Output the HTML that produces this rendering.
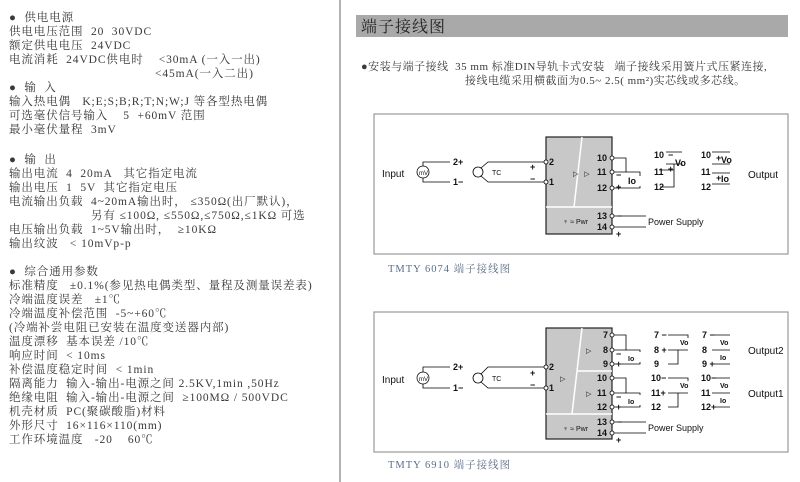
<!DOCTYPE html>
<html><head><meta charset="utf-8"><style>
html,body{margin:0;padding:0;background:#fff;width:800px;height:482px;overflow:hidden}
svg{display:block}
text{white-space:pre}
.l{font-family:"Liberation Serif","Noto Serif CJK SC","Noto Sans CJK SC",serif;font-size:11.5px;fill:#3a3a3a;letter-spacing:0.9px}
.d{font-family:"Liberation Sans",sans-serif;font-size:9px;fill:#111;font-weight:bold}
.n{font-family:"Liberation Sans",sans-serif;font-size:9px;fill:#111}
.c{font-family:"Liberation Serif","Noto Serif CJK SC",serif;font-size:10.5px;fill:#5a6e8a;letter-spacing:1px}
</style></head><body>
<svg width="800" height="482" viewBox="0 0 800 482" xmlns="http://www.w3.org/2000/svg" xml:space="preserve">
<line x1="340" y1="0" x2="340" y2="482" stroke="#999" stroke-width="1.5"/>
<g class="l">
<text x="9" y="21">●  供电电源</text>
<text x="9" y="35">供电电压范围  20  30VDC</text>
<text x="9" y="49">额定供电电压  24VDC</text>
<text x="9" y="63">电流消耗  24VDC供电时    &lt;30mA (一入一出)</text>
<text x="155" y="77">&lt;45mA(一入二出)</text>
<text x="9" y="91">●  输  入</text>
<text x="9" y="105">输入热电偶   K;E;S;B;R;T;N;W;J 等各型热电偶</text>
<text x="9" y="119">可选毫伏信号输入    5  +60mV 范围</text>
<text x="9" y="133">最小毫伏量程  3mV</text>
<text x="9" y="163">●  输  出</text>
<text x="9" y="177">输出电流  4  20mA   其它指定电流</text>
<text x="9" y="191">输出电压  1  5V  其它指定电压</text>
<text x="9" y="205">电流输出负载  4~20mA输出时， ≤350Ω(出厂默认)，</text>
<text x="91" y="219">另有 ≤100Ω, ≤550Ω,≤750Ω,≤1KΩ 可选</text>
<text x="9" y="233">电压输出负载  1~5V输出时，  ≥10KΩ</text>
<text x="9" y="247">输出纹波   &lt; 10mVp-p</text>
<text x="9" y="275">●  综合通用参数</text>
<text x="9" y="289">标准精度   ±0.1%(参见热电偶类型、量程及测量误差表)</text>
<text x="9" y="303">冷端温度误差   ±1℃</text>
<text x="9" y="317">冷端温度补偿范围  -5~+60℃</text>
<text x="9" y="331">(冷端补尝电阻已安装在温度变送器内部)</text>
<text x="9" y="345">温度漂移  基本误差 /10℃</text>
<text x="9" y="359">响应时间  &lt; 10ms</text>
<text x="9" y="373">补偿温度稳定时间  &lt; 1min</text>
<text x="9" y="387">隔离能力  输入-输出-电源之间 2.5KV,1min ,50Hz</text>
<text x="9" y="401">绝缘电阻  输入-输出-电源之间  ≥100MΩ / 500VDC</text>
<text x="9" y="415">机壳材质  PC(聚碳酸脂)材料</text>
<text x="9" y="429">外形尺寸  16×116×110(mm)</text>
<text x="9" y="443">工作环境温度   -20    60℃</text>
</g>
<rect x="356" y="15" width="432" height="22" fill="#a9a9a9"/>
<text x="361" y="32" style="font-family:'Noto Serif CJK SC',serif;font-size:16px;fill:#222;letter-spacing:1px">端子接线图</text>
<text class="l" x="361" y="70" style="font-size:11px;letter-spacing:0.5px">●安装与端子接线  35 mm 标准DIN导轨卡式安装   端子接线采用簧片式压紧连接,</text>
<text class="l" x="465" y="84" style="font-size:11px;letter-spacing:0.5px">接线电缆采用横截面为0.5~ 2.5( mm²)实芯线或多芯线。</text>

<!-- Diagram 1 -->
<g stroke="#000" fill="none" stroke-width="0.8">
<rect x="374" y="114" width="414" height="140" stroke="#999" stroke-width="1.2"/>
<rect x="546" y="137" width="66" height="97" fill="#c8c8c8" stroke="#222" stroke-width="1.2"/>
<line x1="582" y1="137" x2="574" y2="207" stroke="#fff" stroke-width="1.5"/>
<line x1="546" y1="207" x2="612" y2="207" stroke="#fff" stroke-width="1.5"/>
<circle cx="423" cy="172" r="6"/>
<path d="M423 166 V162 H450 M423 178 V182 H450"/>
<circle cx="478" cy="172" r="5"/>
<path d="M481 168 L488 162 H544 M481 176 L488 182 H544"/>
<circle cx="546" cy="162" r="2" fill="#fff"/><circle cx="546" cy="182" r="2" fill="#fff"/>
<g fill="#fff"><circle cx="612" cy="158" r="2"/><circle cx="612" cy="172" r="2"/><circle cx="612" cy="188" r="2"/><circle cx="612" cy="216" r="2"/><circle cx="612" cy="227" r="2"/></g>
<path d="M614 158 H626 V172 M614 172 H640 V176 M614 188 H640 V186 M614 216 H646 M614 227 H646"/>
<path d="M666 152 H682 M666 164 H682 V166 M660 170 H674 V164 M660 187 H674 V170"/>
<path d="M712 152 H730 M712 164 H730 M712 173 H730 M712 184 H730"/>
</g>
<g class="n"><text x="382" y="177" style="font-size:10px">Input</text><text x="419" y="175" style="font-size:6px">mV</text>
<text x="492" y="175" style="font-size:7px">TC</text><text x="748" y="178" style="font-size:10px">Output</text>
<text x="648" y="225">Power Supply</text><text x="563" y="224" style="font-size:7px">♆ ≈ Pwr</text>
<text x="573" y="176" style="font-size:7px">▷   ▷</text></g>
<g class="d">
<text x="453" y="165">2+</text><text x="453" y="185">1−</text><text x="530" y="170">+</text><text x="530" y="182">−</text>
<text x="549" y="165">2</text><text x="549" y="185">1</text>
<text x="597" y="161">10</text><text x="597" y="175">11</text><text x="597" y="191">12</text><text x="597" y="219">13</text><text x="597" y="230">14</text>
<text x="616" y="178">−</text><text x="616" y="190">+</text><text x="628" y="184">Io</text><text x="617" y="219">−</text><text x="616" y="237">+</text>
<text x="654" y="158">10</text><text x="654" y="175">11</text><text x="654" y="190">12</text><text x="668" y="158">−</text><text x="668" y="172">+</text><text x="675" y="166">Vo</text>
<text x="701" y="158">10</text><text x="701" y="175">11</text><text x="701" y="190">12</text><text x="716" y="161">+</text><text x="721" y="163">Vo</text><text x="716" y="181">+</text><text x="721" y="182">Io</text>
</g>
<text class="c" x="388" y="272">TMTY 6074 端子接线图</text>

<!-- Diagram 2 -->
<g stroke="#000" fill="none" stroke-width="0.8">
<rect x="374" y="312" width="414" height="140" stroke="#999" stroke-width="1.2"/>
<rect x="546" y="328" width="66" height="111" fill="#c8c8c8" stroke="#222" stroke-width="1.2"/>
<line x1="582" y1="328" x2="572" y2="414" stroke="#fff" stroke-width="1.5"/>
<line x1="577" y1="371" x2="612" y2="371" stroke="#fff" stroke-width="1.5"/>
<line x1="546" y1="414" x2="612" y2="414" stroke="#fff" stroke-width="1.5"/>
<circle cx="423" cy="378" r="6"/>
<path d="M423 372 V367 H450 M423 384 V388 H450"/>
<circle cx="478" cy="378" r="5"/>
<path d="M481 374 L488 367 H544 M481 382 L488 388 H544"/>
<circle cx="546" cy="367" r="2" fill="#fff"/><circle cx="546" cy="388" r="2" fill="#fff"/>
<g fill="#fff"><circle cx="612" cy="335" r="2"/><circle cx="612" cy="350" r="2"/><circle cx="612" cy="364" r="2"/><circle cx="612" cy="378" r="2"/><circle cx="612" cy="393" r="2"/><circle cx="612" cy="407" r="2"/><circle cx="612" cy="422" r="2"/><circle cx="612" cy="433" r="2"/></g>
<path d="M614 335 H626 V350 M614 350 H640 V352 M614 364 H640 V362 M614 378 H626 V393 M614 393 H640 V395 M614 407 H640 V405 M614 422 H646 M614 433 H646"/>
<path d="M668 335 H688 V338 M668 350 H678 V364 H668 M678 350 H688 M668 378 H688 V381 M668 393 H678 V407 H668 M678 393 H688"/>
<path d="M712 335 H730 M712 350 H730 M712 364 H730 M712 378 H730 M712 393 H730 M712 407 H730"/>
</g>
<g class="n"><text x="382" y="383" style="font-size:10px">Input</text><text x="419" y="381" style="font-size:6px">mV</text>
<text x="492" y="381" style="font-size:7px">TC</text><text x="748" y="354" style="font-size:10px">Output2</text><text x="748" y="397" style="font-size:10px">Output1</text>
<text x="648" y="431">Power Supply</text><text x="563" y="431" style="font-size:7px">♆ ≈ Pwr</text>
<text x="560" y="381" style="font-size:7px">▷</text><text x="586" y="353" style="font-size:7px">▷</text><text x="586" y="396" style="font-size:7px">▷</text></g>
<g class="d">
<text x="453" y="370">2+</text><text x="453" y="391">1−</text><text x="530" y="376">+</text><text x="530" y="388">−</text>
<text x="549" y="370">2</text><text x="549" y="391">1</text>
<text x="603" y="338">7</text><text x="603" y="353">8</text><text x="603" y="367">9</text><text x="597" y="381">10</text><text x="597" y="396">11</text><text x="597" y="410">12</text><text x="597" y="425">13</text><text x="597" y="436">14</text>
<text x="616" y="357">−</text><text x="616" y="367">+</text><text x="628" y="361" style="font-size:7px">Io</text>
<text x="616" y="400">−</text><text x="616" y="410">+</text><text x="628" y="404" style="font-size:7px">Io</text>
<text x="617" y="425">−</text><text x="616" y="443">+</text>
<text x="654" y="338">7 −</text><text x="654" y="353">8 +</text><text x="654" y="367">9</text><text x="680" y="345" style="font-size:7px">Vo</text>
<text x="651" y="381">10−</text><text x="651" y="396">11+</text><text x="651" y="410">12</text><text x="680" y="388" style="font-size:7px">Vo</text>
<text x="702" y="338">7 −</text><text x="702" y="353">8</text><text x="702" y="367">9 +</text><text x="720" y="345" style="font-size:7px">Vo</text><text x="720" y="360" style="font-size:7px">Io</text>
<text x="701" y="381">10−</text><text x="701" y="396">11</text><text x="701" y="410">12+</text><text x="720" y="388" style="font-size:7px">Vo</text><text x="720" y="403" style="font-size:7px">Io</text>
</g>
<text class="c" x="388" y="468">TMTY 6910 端子接线图</text>
</svg>
</body></html>
